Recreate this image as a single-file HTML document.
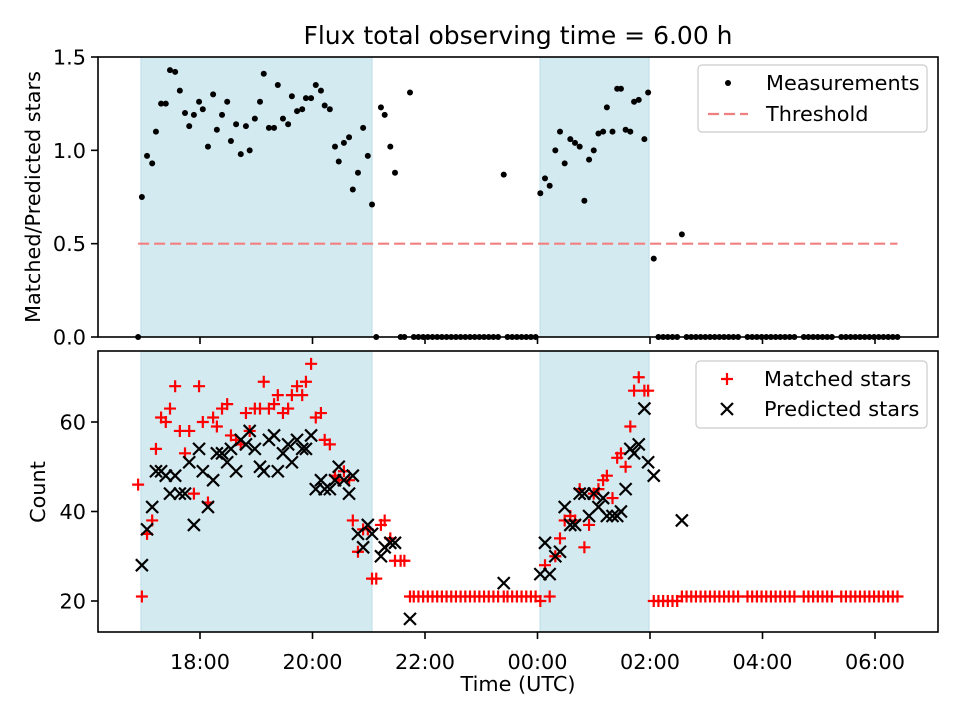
<!DOCTYPE html>
<html><head><meta charset="utf-8"><style>
html,body{margin:0;padding:0;background:#fff}
svg{display:block;font-family:"DejaVu Sans","Liberation Sans",sans-serif}
</style></head><body>
<svg id="chart" width="960" height="720" viewBox="0 0 960 720">
<rect width="960" height="720" fill="#fff"/>
<text x="518" y="44" font-size="25" text-anchor="middle">Flux total observing time = 6.00 h</text>
<g id="gtop"></g>
<g id="gbot"></g>
<text x="518" y="691" font-size="20.8" text-anchor="middle">Time (UTC)</text>
<text transform="translate(40,197) rotate(-90)" font-size="20.8" text-anchor="middle">Matched/Predicted stars</text>
<text transform="translate(45,492) rotate(-90)" font-size="20.8" text-anchor="middle">Count</text>
</svg>
<script>
// minutes since 16:00 UTC
const times = [58,63.5,69,73,78.5,83.5,88,93.5,98.5,104,108.5,113.5,119,123,128.5,134,138,143.5,149,153,158.5,163.5,169,173,178.5,184,188,193.5,199,203,208.5,214,218,223.5,229,233,238.5,243.5,249,253,258.5,264,268,273.5,279,283,288.5,294,299,303.5,313,317,323,328,344,444,483,488,493,499,504,509,515,520,525,530,535,540,545,550,554,560,565,569,574,579,583,588,594,598,604,634];
const ratio = [0.75,0.97,0.93,1.10,1.25,1.25,1.43,1.42,1.32,1.20,1.13,1.19,1.26,1.22,1.02,1.30,1.11,1.19,1.26,1.05,1.14,0.98,1.13,1.00,1.17,1.26,1.41,1.12,1.12,1.35,1.17,1.14,1.29,1.21,1.22,1.28,1.28,1.35,1.32,1.24,1.22,1.02,0.94,1.04,1.07,0.79,0.88,1.12,0.97,0.71,1.23,1.19,1.02,0.88,1.31,0.87,0.77,0.85,0.81,1.0,1.1,0.93,1.06,1.04,1.02,0.73,0.95,1.0,1.09,1.1,1.23,1.1,1.33,1.33,1.11,1.1,1.26,1.27,1.06,1.31,0.42,0.55];
const predicted = [28,36,41,49,49,48,44,48,44,44,51,37,54,49,41,47,53,53,51,54,49,56,55,58,54,50,49,56,57,49,53,55,51,56,54,54,57,45,47,45,45,47,50,47,44,48,35,32,37,35,30,32,33,33,16,24,26,33,26,30,31,41,37,37,44,44,39,44,41,43,39,39,39,40,45,54,53,55,63,51,48,38];
const matched = [21,35,38,54,61,60,63,68,58,53,58,44,68,60,42,61,59,63,64,57,56,55,62,58,63,63,69,63,64,66,62,63,66,68,66,69,73,61,62,56,55,48,47,49,47,38,31,36,36,25,37,38,34,29,21,21,20,28,21,30,34,38,39,38,45,32,37,44,45,47,48,43,52,53,50,59,67,70,67,67,20,21];
// zero-ratio measurements (no predicted count)
const zeroTimes = [54,308,334,338,348,353,358,363,368,373,378,383,388,393,398,403,408,413,418,423,428,433,438,448,453,458,463,468,473,478,609,614,619,624,629,639,644,649,654,659,664,669,674,679,684,689,694,704,709,714,719,724,729,734,739,744,749,754,764,769,774,779,784,789,794,804,809,814,819,824,829,834,839,844,849,854,859,864];
const zeroMatched = [46,25,29,29,21,21,21,21,21,21,21,21,21,21,21,21,21,21,21,21,21,21,21,21,21,21,21,21,21,21,20,20,20,20,20,21,21,21,21,21,21,21,21,21,21,21,21,21,21,21,21,21,21,21,21,21,21,21,21,21,21,21,21,21,21,21,21,21,21,21,21,21,21,21,21,21,21,21];
const shadeRanges = [[57,303.5],[482.7,599]];
const threshold = 0.5;
const thresholdSpan = [54,864];
const xTickVals = [120,240,360,480,600,720,840];
const xTickLabels = ["18:00","20:00","22:00","00:00","02:00","04:00","06:00"];
const topTickVals = [0,0.5,1.0,1.5];
const topTickLabels = ["0.0","0.5","1.0","1.5"];
const botTickVals = [20,40,60];
const botTickLabels = ["20","40","60"];

const NS="http://www.w3.org/2000/svg";
const L=98,R=938, T1=57,B1=337, T2=351,B2=632;
const xs = m => 200 + (m-120)*56.25/60;
const yTop = v => 337 - v*(280/1.5);
const yBot = v => 601 - (v-20)*4.475;
function mk(tag,attrs,parent){const e=document.createElementNS(NS,tag);for(const k in attrs)e.setAttribute(k,attrs[k]);parent.appendChild(e);return e;}
const gTop=document.getElementById('gtop'), gBot=document.getElementById('gbot');

function panel(g,T,B,yf,tv,tl,showX){
  shadeRanges.forEach(r=>{
    const s=mk('rect',{x:xs(r[0]),y:T,width:xs(r[1])-xs(r[0]),height:B-T,fill:'#d4eaf1',stroke:'#bcdde8','stroke-width':1},g);
    
    
  });
  xTickVals.forEach((v,i)=>{
    const x=xs(v);
    const t=mk('line',{x1:x,x2:x,y1:B,y2:B+7,stroke:'#000','stroke-width':1.6},g);
    
    
    if(showX){
      const lb=mk('text',{x:x,y:B+37,'font-size':20.8,'text-anchor':'middle'},g);
      lb.textContent=xTickLabels[i];
      
      
    }
  });
  tv.forEach((v,i)=>{
    const y=yf(v);
    const t=mk('line',{x1:L-7,x2:L,y1:y,y2:y,stroke:'#000','stroke-width':1.6},g);
    
    
    const lb=mk('text',{x:L-12,y:y+7.5,'font-size':20.8,'text-anchor':'end'},g);
    lb.textContent=tl[i];
    
    
  });
}
panel(gTop,T1,B1,yTop,topTickVals,topTickLabels,false);
panel(gBot,T2,B2,yBot,botTickVals,botTickLabels,true);

const th=mk('line',{x1:xs(thresholdSpan[0]),x2:xs(thresholdSpan[1]),y1:yTop(threshold),y2:yTop(threshold),stroke:'#f08080','stroke-width':2.2,'stroke-dasharray':'11,5'},gTop);



function dot(g,x,y){return mk('circle',{cx:x,cy:y,r:3,fill:'#000'},g);}
function plus(g,x,y){return mk('path',{d:`M${x-6},${y}H${x+6}M${x},${y-6}V${y+6}`,stroke:'#f00','stroke-width':2.2,fill:'none'},g);}
function cross(g,x,y){return mk('path',{d:`M${x-6},${y-6}L${x+6},${y+6}M${x-6},${y+6}L${x+6},${y-6}`,stroke:'#000','stroke-width':2.2,fill:'none'},g);}

zeroTimes.forEach((t,i)=>{
  const d=dot(gTop,xs(t),yTop(0));
  
  
  const p=plus(gBot,xs(t),yBot(zeroMatched[i]));
  
  
});
times.forEach((t,i)=>{
  const d=dot(gTop,xs(t),yTop(ratio[i]));
  
  
  const p=plus(gBot,xs(t),yBot(matched[i]));
  
  
});
times.forEach((t,i)=>{
  const c=cross(gBot,xs(t),yBot(predicted[i]));
  
  
});

[[gTop,T1,B1],[gBot,T2,B2]].forEach(a=>{
  const f=mk('rect',{x:L,y:a[1],width:R-L,height:a[2]-a[1],fill:'none',stroke:'#000','stroke-width':1.6},a[0]);
  
  
});

function legend(g,x,y,w,h){return mk('rect',{x:x,y:y,width:w,height:h,rx:4,fill:'#fff','fill-opacity':0.8,stroke:'#ccc','stroke-width':1.2},g);}
const lg1=mk('g',{},gTop);


legend(lg1,698,65,229,67);
dot(lg1,728,83);
let tx=mk('text',{x:766,y:90,'font-size':20.8},lg1);tx.textContent='Measurements';


mk('line',{x1:708,x2:748,y1:114,y2:114,stroke:'#f08080','stroke-width':2.2,'stroke-dasharray':'11,5'},lg1);
tx=mk('text',{x:766,y:121,'font-size':20.8},lg1);tx.textContent='Threshold';



const lg2=mk('g',{},gBot);


legend(lg2,696,361,231,67);
plus(lg2,727,379);
tx=mk('text',{x:764,y:386,'font-size':20.8},lg2);tx.textContent='Matched stars';


cross(lg2,727,409);
tx=mk('text',{x:764,y:416,'font-size':20.8},lg2);tx.textContent='Predicted stars';


</script>
</body></html>
